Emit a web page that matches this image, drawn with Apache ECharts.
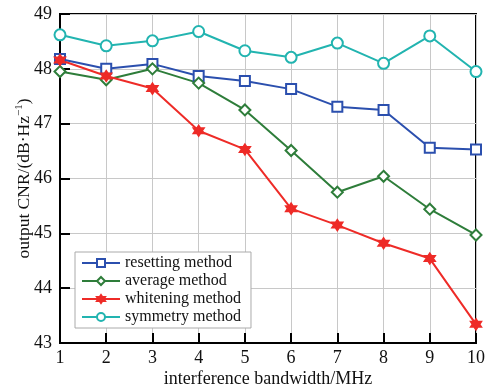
<!DOCTYPE html>
<html>
<head>
<meta charset="utf-8">
<script src="https://cdn.jsdelivr.net/npm/echarts@6/dist/echarts.min.js"></script>
<style>
  html, body { margin: 0; padding: 0; background: #fff; }
  #chart { width: 488px; height: 388px; }
</style>
</head>
<body>
<div id="chart"></div>
<script>
// bandwidth (MHz)
var bandwidth = [1, 2, 3, 4, 5, 6, 7, 8, 9, 10];
var resetting = [48.18, 48.00, 48.09, 47.87, 47.78, 47.63, 47.31, 47.25, 46.56, 46.53];
var average   = [47.95, 47.80, 48.00, 47.74, 47.25, 46.51, 45.75, 46.04, 45.44, 44.97];
var whitening = [48.16, 47.87, 47.64, 46.87, 46.53, 45.45, 45.15, 44.82, 44.54, 43.34];
var symmetry  = [48.62, 48.42, 48.51, 48.68, 48.33, 48.21, 48.47, 48.10, 48.60, 47.95];

function pairs(ys) {
    var out = [];
    for (var i = 0; i < bandwidth.length; ++i) {
        out.push([bandwidth[i], ys[i]]);
    }
    return out;
}

var serif = '"Liberation Serif", "DejaVu Serif", serif';
// six-point star for the whitening curve
var star = 'path://M0,-10L2.9,-5L8.7,-5L5.8,0L8.7,5L2.9,5L0,10L-2.9,5L-8.7,5L-5.8,0L-8.7,-5L-2.9,-5Z';

function makeSeries(name, ys, color, symbol, size) {
    return {
        name: name,
        type: 'line',
        data: pairs(ys),
        symbol: symbol,
        symbolSize: size,
        lineStyle: { color: color, width: 2 },
        itemStyle: { color: color, borderColor: color, borderWidth: 2 },
        emphasis: { disabled: true },
        z: 3
    };
}

var myChart = echarts.init(document.getElementById('chart'));
myChart.setOption({
    animation: false,
    textStyle: { fontFamily: serif },
    grid: {
        left: 60, right: 12, top: 14, bottom: 45,
        outerBoundsMode: 'none',
        containLabel: false,
        show: true, borderColor: '#000', borderWidth: 2
    },
    legend: {
        orient: 'vertical',
        left: 75, top: 252,
        itemWidth: 38, itemHeight: 10, itemGap: 2,
        padding: [3, 10, 3, 6],
        backgroundColor: '#fff',
        borderColor: '#aaa', borderWidth: 1,
        textStyle: { fontFamily: serif, fontSize: 16, lineHeight: 16, color: '#111' },
        data: ['resetting method', 'average method', 'whitening method', 'symmetry method']
    },
    xAxis: {
        type: 'value',
        min: 1, max: 10, interval: 1,
        name: 'interference bandwidth/MHz',
        nameLocation: 'middle', nameGap: 27,
        nameMoveOverlap: false,
        nameTextStyle: { fontFamily: serif, fontSize: 18, color: '#111' },
        axisLine: { lineStyle: { color: '#000', width: 2 } },
        axisTick: { inside: true, length: 10, lineStyle: { color: '#000', width: 2 } },
        axisLabel: { fontFamily: serif, fontSize: 18, color: '#111', margin: 6 },
        splitLine: { show: true, lineStyle: { color: '#c8c8c8', width: 1 } }
    },
    yAxis: {
        type: 'value',
        min: 43, max: 49, interval: 1,
        name: 'output CNR/(dB·Hz{sup|−1})',
        nameLocation: 'middle', nameGap: 26,
        nameMoveOverlap: false,
        nameTextStyle: {
            fontFamily: serif, fontSize: 17.5, lineHeight: 20, color: '#111',
            rich: { sup: { fontFamily: serif, fontSize: 11, lineHeight: 20, color: '#111', verticalAlign: 'top' } }
        },
        axisLine: { lineStyle: { color: '#000', width: 2 } },
        axisTick: { inside: true, length: 10, lineStyle: { color: '#000', width: 2 } },
        axisLabel: { fontFamily: serif, fontSize: 18, color: '#111', margin: 8 },
        splitLine: { show: true, lineStyle: { color: '#c8c8c8', width: 1 } }
    },
    series: [
        makeSeries('resetting method', resetting, '#2b4fae', 'emptyRect', 10),
        makeSeries('average method', average, '#2e7d3a', 'emptyDiamond', 11),
        makeSeries('whitening method', whitening, '#ee2b27', star, 10),
        makeSeries('symmetry method', symmetry, '#22b4b0', 'emptyCircle', 11)
    ]
});
</script>
</body>
</html>
